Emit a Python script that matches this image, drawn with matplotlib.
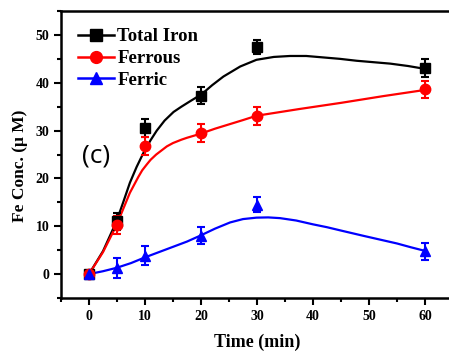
import matplotlib
matplotlib.use('Agg')
import matplotlib.pyplot as plt
from matplotlib.ticker import MultipleLocator

# measured points
t = [0, 5, 10, 20, 30, 60]
total = [0, 11.0, 30.5, 37.3, 47.5, 43.1]
total_err = [0.6, 1.8, 1.9, 1.8, 1.4, 1.9]
ferrous = [0, 10.2, 26.7, 29.5, 33.1, 38.6]
ferrous_err = [0.6, 1.9, 1.9, 1.8, 1.9, 1.8]
ferric = [0, 1.2, 3.8, 8.0, 14.5, 4.8]
ferric_err = [0.6, 2.1, 2.0, 1.8, 1.6, 1.8]

# fitted curves
fit_t_total = [0, 2.5, 4.9, 6.1, 7.3, 8.5, 9.7, 11.0, 12.1, 13.5, 15.1, 16.5, 18.0, 20.1, 22.0, 24.0, 27.0, 29.9, 33.0, 35.9, 38.8, 41.8, 44.8, 47.8, 50.8, 53.8, 57.0, 60]
fit_total = [0, 4.8, 11.0, 15.0, 19.1, 22.4, 25.3, 28.0, 30.0, 32.1, 33.9, 35.0, 36.1, 37.6, 39.5, 41.3, 43.4, 44.8, 45.4, 45.6, 45.6, 45.3, 45.0, 44.6, 44.3, 44.0, 43.5, 42.9]
fit_t_ferrous = [0, 2.5, 4.9, 6.1, 7.3, 8.8, 9.5, 10.3, 11.0, 12.0, 13.9, 15.0, 16.5, 17.5, 19.8, 22.5, 25.0, 27.5, 29.9, 37.5, 45.0, 52.5, 60]
fit_ferrous = [0, 4.6, 10.2, 13.6, 17.0, 20.3, 21.7, 22.9, 23.9, 25.0, 26.7, 27.4, 28.1, 28.5, 29.3, 30.4, 31.3, 32.2, 33.1, 34.5, 35.8, 37.2, 38.5]
fit_t_ferric = [0, 2.5, 4.9, 7.5, 10.0, 12.5, 15.0, 17.5, 19.8, 22.5, 25.2, 27.5, 29.9, 32.0, 34.1, 37.0, 40.0, 42.5, 45.0, 49.0, 52.0, 55.0, 57.5, 60]
fit_ferric = [0, 0.6, 1.3, 2.3, 3.5, 4.6, 5.7, 6.8, 8.0, 9.5, 10.8, 11.5, 11.8, 11.85, 11.7, 11.2, 10.4, 9.8, 9.1, 8.0, 7.2, 6.4, 5.6, 4.85]

serif = 'Liberation Serif'

fig = plt.figure(figsize=(4.49, 3.52), dpi=100)
ax = fig.add_axes([0.1359, 0.1534, 0.873, 0.8153])

series = [
    (total, total_err, fit_t_total, fit_total, 'black', 's', 'Total Iron'),
    (ferrous, ferrous_err, fit_t_ferrous, fit_ferrous, 'red', 'o', 'Ferrous'),
    (ferric, ferric_err, fit_t_ferric, fit_ferric, 'blue', '^', 'Ferric'),
]
for y, e, ft, fy, c, m, lab in series:
    ax.plot(ft, fy, color=c, lw=1.6, zorder=2)
    ax.errorbar(t, y, yerr=e, fmt=m, color=c, ms=7.5, capsize=3, elinewidth=1.5,
                capthick=1.5, zorder=3)
    ax.plot([], [], color=c, marker=m, ms=8.5, lw=1.8, label=lab)

ax.set_xlim(-5, 65)
ax.set_ylim(-5, 55)
ax.xaxis.set_major_locator(MultipleLocator(10))
ax.xaxis.set_minor_locator(MultipleLocator(5))
ax.yaxis.set_major_locator(MultipleLocator(10))
ax.yaxis.set_minor_locator(MultipleLocator(5))
ax.tick_params(which='major', direction='out', length=5, width=1.5)
ax.tick_params(which='minor', direction='out', length=3, width=1.5)
for s in ax.spines.values():
    s.set_linewidth(1.8)
for lbl in ax.get_xticklabels() + ax.get_yticklabels():
    lbl.set_fontfamily(serif)
    lbl.set_fontweight('bold')
    lbl.set_fontsize(10)

ax.set_xlabel('Time (min)', fontfamily=serif, fontweight='bold', fontsize=13, labelpad=8)
ax.set_ylabel('Fe Conc. (μ M)', fontfamily=serif, fontweight='bold', fontsize=12.5)
ax.yaxis.set_label_coords(-0.084, 0.462)

ax.text(1.3, 24.7, '(c)', fontsize=19, fontfamily='Open Sans', ha='center', va='center')

ax.legend(loc='upper left', frameon=False, prop={'family': serif, 'weight': 'bold', 'size': 13.5},
          handlelength=1.9, handletextpad=0.2, labelspacing=0.25,
          bbox_to_anchor=(0.0, 0.999), borderaxespad=0.5)

fig.savefig('out.png', dpi=100)
